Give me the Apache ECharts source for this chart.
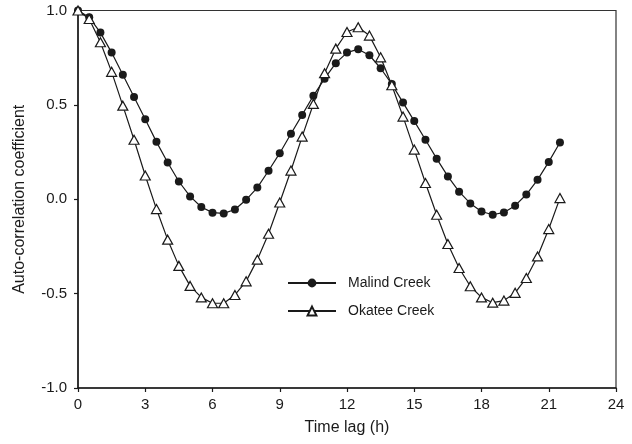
<!DOCTYPE html>
<html>
<head>
<meta charset="utf-8">
<script src="https://cdn.jsdelivr.net/npm/echarts@6/dist/echarts.min.js"></script>
<style>html,body{margin:0;padding:0;background:#fff}#c{width:632px;height:444px}</style>
</head>
<body>
<div id="c"></div>
<script>
const hours = [0,0.5,1,1.5,2,2.5,3,3.5,4,4.5,5,5.5,6,6.5,7,7.5,8,8.5,9,9.5,10,10.5,11,11.5,12,12.5,13,13.5,14,14.5,15,15.5,16,16.5,17,17.5,18,18.5,19,19.5,20,20.5,21,21.5];
const malind = [1.0,0.964,0.883,0.777,0.660,0.542,0.424,0.304,0.195,0.094,0.015,-0.041,-0.071,-0.075,-0.054,-0.003,0.062,0.151,0.244,0.347,0.447,0.548,0.639,0.721,0.777,0.795,0.763,0.694,0.610,0.512,0.414,0.315,0.215,0.121,0.040,-0.022,-0.065,-0.082,-0.070,-0.034,0.025,0.103,0.198,0.301];
const okatee = [1.0,0.955,0.832,0.675,0.496,0.315,0.126,-0.052,-0.214,-0.353,-0.459,-0.520,-0.551,-0.551,-0.507,-0.435,-0.320,-0.183,-0.017,0.152,0.332,0.505,0.668,0.798,0.886,0.911,0.867,0.752,0.604,0.438,0.263,0.086,-0.082,-0.237,-0.364,-0.461,-0.520,-0.548,-0.537,-0.496,-0.417,-0.303,-0.158,0.006];
const seriesNames = ['Malind Creek','Okatee Creek'];
const xTitle = 'Time lag (h)';
const yTitle = 'Auto-correlation coefficient';

const font = '"Liberation Sans", Arial, Helvetica, sans-serif';
const ink = '#1a1a1a';
const pair = (ys) => hours.map((h, i) => [h, ys[i]]);

const chart = echarts.init(document.getElementById('c'));
chart.setOption({
  animation: false,
  backgroundColor: '#fff',
  grid: { left: 78, right: 16, top: 10.5, bottom: 56, show: true, borderColor: '#333', borderWidth: 1.2 },
  xAxis: {
    type: 'value', min: 0, max: 24, interval: 3,
    name: xTitle, nameLocation: 'middle', nameGap: 32,
    nameTextStyle: { fontFamily: font, fontSize: 16, color: ink },
    axisLine: { show: true, onZero: false, lineStyle: { color: ink, width: 1.5 } },
    axisTick: { show: true, length: 4, lineStyle: { color: ink, width: 1.2 } },
    axisLabel: { margin: 9, fontFamily: font, fontSize: 15, color: ink },
    splitLine: { show: false }
  },
  yAxis: {
    type: 'value', min: -1, max: 1, interval: 0.5,
    name: yTitle, nameLocation: 'middle', nameGap: 50,
    nameTextStyle: { fontFamily: font, fontSize: 16, color: ink },
    axisLine: { show: true, onZero: false, lineStyle: { color: ink, width: 1.5 } },
    axisTick: { show: true, length: 4, lineStyle: { color: ink, width: 1.2 } },
    axisLabel: { margin: 11, fontFamily: font, fontSize: 15, color: ink, formatter: v => v.toFixed(1) },
    splitLine: { show: false }
  },
  legend: {
    orient: 'vertical', left: 287, top: 276, padding: 0,
    itemWidth: 48, itemHeight: 11, itemGap: 14,
    textStyle: { fontFamily: font, fontSize: 14, color: ink, padding: [0, 0, 0, 7] },
    data: seriesNames
  },
  series: [
    {
      name: seriesNames[0], type: 'line', data: pair(malind),
      symbol: 'circle', symbolSize: 8,
      lineStyle: { color: ink, width: 1.2 },
      itemStyle: { color: ink, borderColor: ink, borderWidth: 0 }
    },
    {
      name: seriesNames[1], type: 'line', data: pair(okatee),
      symbol: 'triangle', symbolSize: [10, 9],
      lineStyle: { color: ink, width: 1.2 },
      itemStyle: { color: '#fff', borderColor: ink, borderWidth: 1.2 }
    }
  ]
});
</script>
</body>
</html>
